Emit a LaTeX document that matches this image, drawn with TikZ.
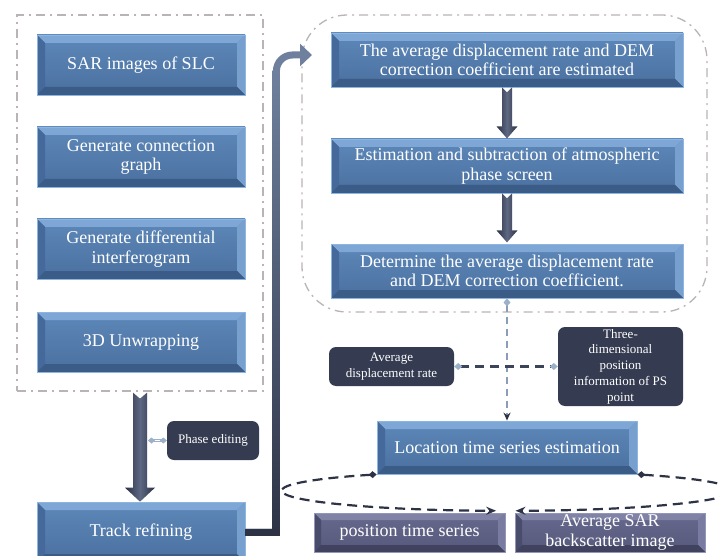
\documentclass[tikz,border=0pt]{standalone}
\usepackage{fontspec}
\setmainfont{Liberation Serif}
\usetikzlibrary{arrows.meta,calc}
\definecolor{bface1}{HTML}{5D88B9}
\definecolor{bface2}{HTML}{4A709F}
\definecolor{btop}{HTML}{7FA7D6}
\definecolor{bleft}{HTML}{44699A}
\definecolor{bright}{HTML}{77A0CF}
\definecolor{bbot}{HTML}{3B5C86}
\definecolor{bbord}{HTML}{8DB5E2}
\definecolor{pface1}{HTML}{66698D}
\definecolor{pface2}{HTML}{56597B}
\definecolor{ptop}{HTML}{8083A6}
\definecolor{pleft}{HTML}{4A4C6C}
\definecolor{pright}{HTML}{797CA0}
\definecolor{pbot}{HTML}{404260}
\definecolor{pbord}{HTML}{9396B8}
\definecolor{navy}{HTML}{353B50}
\definecolor{framec}{HTML}{BAB4B4}
\definecolor{elc}{HTML}{2D3345}
\definecolor{lightc}{HTML}{9CB0C9}
\definecolor{vdash}{HTML}{8A9DB8}
\definecolor{hdash}{HTML}{3C4459}
\definecolor{arredge}{HTML}{2B3143}
\definecolor{arrmid}{HTML}{5E6883}
\definecolor{tallc1}{HTML}{6E809D}
\definecolor{tallc2}{HTML}{2D3345}
\newcommand\bevelstrips[5]{%
 \fill[#1] (path picture bounding box.north west) -- (path picture bounding box.north east) -- ([shift={(-#5,#5)}]path picture bounding box.north east) -- ([shift={(#5,#5)}]path picture bounding box.north west) -- cycle;
 \fill[#2] (path picture bounding box.north west) -- ([shift={(#5,#5)}]path picture bounding box.north west) -- ([shift={(#5,-#5)}]path picture bounding box.south west) -- (path picture bounding box.south west) -- cycle;
 \fill[#3] (path picture bounding box.north east) -- ([shift={(-#5,#5)}]path picture bounding box.north east) -- ([shift={(-#5,-#5)}]path picture bounding box.south east) -- (path picture bounding box.south east) -- cycle;
 \fill[#4] (path picture bounding box.south west) -- ([shift={(#5,-#5)}]path picture bounding box.south west) -- ([shift={(-#5,-#5)}]path picture bounding box.south east) -- (path picture bounding box.south east) -- cycle;}
\tikzset{
 bigfont/.style={font=\fontsize{18}{19.5}\selectfont},
 smallfont/.style={font=\fontsize{13}{15.7}\selectfont},
 bluebox/.style={draw=bbord, line width=0.8pt, top color=bface1, bottom color=bface2, text=white, bigfont, align=center, inner sep=0pt, path picture={\bevelstrips{btop}{bleft}{bright}{bbot}{8}}},
 purplebox/.style={draw=pbord, line width=0.8pt, top color=pface1, bottom color=pface2, text=white, bigfont, align=center, inner sep=0pt, path picture={\bevelstrips{ptop}{pleft}{pright}{pbot}{7}}},
 darkbox/.style={fill=navy, rounded corners=7pt, text=white, smallfont, align=center, inner sep=0pt},
 framebox/.style={draw=framec, line width=1.3pt, dash pattern=on 9pt off 5pt on 2pt off 5pt, inner sep=0pt},
 blockarrow/.style={left color=arredge, right color=arredge, middle color=arrmid, draw=none},
 ellconn/.style={draw=elc, line width=2.2pt, dash pattern=on 10pt off 6pt},
}
\begin{document}
\begin{tikzpicture}[x=1pt,y=-1pt]
\useasboundingbox (0,0) rectangle (720,556);
\clip (0,0) rectangle (720,556);
\fill[white] (0,0) rectangle (720,556);
% frames
\node[framebox, minimum width=246pt, minimum height=376pt] (lframe) at (140,203) {};
\node[framebox, rounded corners=45pt, minimum width=405pt, minimum height=297pt] (rframe) at (504.5,163.5) {};
% left column
\node[bluebox, minimum width=208pt, minimum height=60pt] (sar) at (141,65) {SAR images of SLC};
\node[bluebox, minimum width=208pt, minimum height=60pt] (conn) at (141,157) {Generate connection\\graph};
\node[bluebox, minimum width=208pt, minimum height=60pt] (diff) at (141,249) {Generate differential\\interferogram};
\node[bluebox, minimum width=208pt, minimum height=60pt] (unwrap) at (141,342) {3D Unwrapping};
\node[bluebox, minimum width=208pt, minimum height=60pt] (track) at (141,532) {Track refining};
\node[darkbox, minimum width=92pt, minimum height=39pt] (phase) at (213,440.5) {Phase editing};
% right column
\node[bluebox, minimum width=352pt, minimum height=54pt] (estA) at (507,60) {The average displacement rate and DEM\\correction coefficient are estimated};
\node[bluebox, minimum width=352pt, minimum height=54pt] (estB) at (507,166) {Estimation and subtraction of atmospheric\\phase screen};
\node[bluebox, minimum width=352pt, minimum height=54pt] (estC) at (507,271) {Determine the average displacement rate\\and DEM correction coefficient.};
\node[darkbox, minimum width=125pt, minimum height=39pt] (avg) at (391.5,366.5) {Average\\displacement rate};
\node[darkbox, minimum width=125pt, minimum height=79pt] (three) at (620.5,366.5) {Three-\\dimensional\\position\\information of PS\\point};
\node[bluebox, minimum width=260pt, minimum height=53pt] (loc) at (507,447.5) {Location time series estimation};
\node[purplebox, minimum width=191pt, minimum height=39pt] (pts) at (409.5,532.5) {position time series};
\node[purplebox, minimum width=190pt, minimum height=39pt] (sarbs) at (610,532.5) {Average SAR\\backscatter image};
% block arrows
\path[blockarrow] (lframe.south) ++(-7,1) -- ++(7,6) -- ++(7,-6) -- ++(0,95) -- ++(8,0) -- ++(-15,14) -- ++(-15,-14) -- ++(8,0) -- cycle;
\path[blockarrow] (estA.south) ++(-5,0) -- ++(5,5) -- ++(5,-5) -- ++(0,39) -- ++(5.5,0) -- ++(-10.5,12) -- ++(-10.5,-12) -- ++(5.5,0) -- cycle;
\path[blockarrow] (estB.south) ++(-5,0) -- ++(5,5) -- ++(5,-5) -- ++(0,37) -- ++(5.5,0) -- ++(-10.5,12) -- ++(-10.5,-12) -- ++(5.5,0) -- cycle;
% phase editing link
\coordinate (pe) at ($(lframe.south |- phase.west)+(8,0)$);
\draw[lightc, line width=0.8pt, double=white, double distance=1.6pt, {Diamond[length=7pt,width=6pt,fill=lightc]}-{Diamond[length=7pt,width=6pt,fill=lightc]}] (pe) -- (phase.west);
% tall connector
\coordinate (fin) at (312,55);
\draw[tallc1, line width=7pt, -{Triangle[width=22pt,length=12pt]}] (track.east) -- ++(31,0) -- ++(0,-1) [rounded corners=16pt] |- (fin);
\shade[top color=tallc1, bottom color=tallc2] ($(fin)+(-39.5,16)$) rectangle ($(track.east)+(34.5,3.5)$);
\fill[tallc2] ($(track.east)+(0,-3.5)$) rectangle ($(track.east)+(34.5,3.5)$);
% dashed connectors
\draw[vdash, line width=2pt, dash pattern=on 7pt off 5pt, {Diamond[length=8pt,width=7pt,color=lightc]}-{Stealth[length=8pt,width=7pt,color=elc]}] (estC.south) -- (loc.north);
\draw[hdash, line width=3pt, dash pattern=on 9pt off 6pt, {Diamond[length=8pt,width=7pt,color=lightc]}-{Diamond[length=8pt,width=7pt,color=lightc]}] (avg.east) -- (three.west);
% ellipse connectors
\draw[ellconn, {Diamond[length=8pt,width=7pt]}-{Stealth[length=10pt,width=8pt]}] (loc.south west) arc[start angle=125, end angle=268, x radius=222pt, y radius=20pt];
\draw[ellconn, {Diamond[length=8pt,width=7pt]}-{Stealth[length=10pt,width=8pt]}] (loc.south east) arc[start angle=55, end angle=-88.6, x radius=222pt, y radius=20pt];
\end{tikzpicture}
\end{document}
